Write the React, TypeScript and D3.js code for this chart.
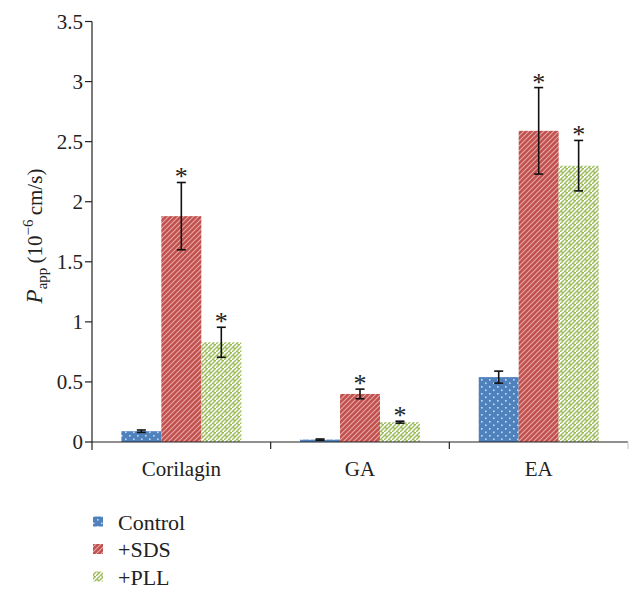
import React, { useEffect, useRef } from "react";
import * as d3 from "d3";

const categories = ["Corilagin", "GA", "EA"];
const seriesNames = ["Control", "+SDS", "+PLL"];
const controlValues = [0.09, 0.02, 0.54];
const sdsValues = [1.88, 0.40, 2.59];
const pllValues = [0.83, 0.165, 2.30];
const controlErr = [0.01, 0.005, 0.05];
const sdsErr = [0.28, 0.04, 0.36];
const pllErr = [0.125, 0.008, 0.21];
const controlStar = [false, false, false];
const sdsStar = [true, true, true];
const pllStar = [true, true, true];
const yTicks = [0, 0.5, 1, 1.5, 2, 2.5, 3, 3.5];

const FONT = "Liberation Serif, DejaVu Serif, serif";

export default function App() {
  const ref = useRef<SVGSVGElement | null>(null);

  useEffect(() => {
    const svg = d3.select(ref.current);
    svg.selectAll("*").remove();

    const W = 642, H = 599;
    const x0 = 92, x1 = 628, yTop = 21.5, yBot = 442;

    const defs = svg.append("defs");
    const pDots = defs.append("pattern").attr("id", "pDots").attr("patternUnits", "userSpaceOnUse")
      .attr("width", 8).attr("height", 7);
    pDots.append("rect").attr("width", 8).attr("height", 7).attr("fill", "#4F81BD");
    pDots.append("rect").attr("x", 1).attr("y", 1).attr("width", 1.6).attr("height", 1.6).attr("fill", "#C8DAF0");
    pDots.append("rect").attr("x", 5).attr("y", 4.5).attr("width", 1.6).attr("height", 1.6).attr("fill", "#C8DAF0");
    const pDiag = defs.append("pattern").attr("id", "pDiag").attr("patternUnits", "userSpaceOnUse")
      .attr("width", 5).attr("height", 5);
    pDiag.append("rect").attr("width", 5).attr("height", 5).attr("fill", "#C0504D");
    pDiag.append("path").attr("d", "M-1,6 L6,-1 M-1,1 L1,-1 M4,6 L6,4")
      .attr("stroke", "#E8A9A7").attr("stroke-width", 1.1);
    const pZig = defs.append("pattern").attr("id", "pZig").attr("patternUnits", "userSpaceOnUse")
      .attr("width", 8).attr("height", 8);
    pZig.append("rect").attr("width", 8).attr("height", 8).attr("fill", "#ffffff");
    pZig.append("path").attr("d", "M0,8 L8,0 M-4,8 L4,0 M4,8 L12,0 M1,3 L3,5 M5,7 L7,9 M5,-1 L7,1")
      .attr("stroke", "#9BBB59").attr("stroke-width", 1.4).attr("fill", "none");

    const patterns = ["url(#pDots)", "url(#pDiag)", "url(#pZig)"];
    const values = [controlValues, sdsValues, pllValues];
    const errs = [controlErr, sdsErr, pllErr];
    const stars = [controlStar, sdsStar, pllStar];

    const y = d3.scaleLinear().domain([0, 3.5]).range([yBot, yTop]);
    const xCat = d3.scaleBand<string>().domain(categories).range([x0, x1]).padding(0);
    const xSer = d3.scaleBand<string>().domain(seriesNames).range([0, xCat.bandwidth()])
      .paddingInner(0).paddingOuter(0.735);

    const g = svg.append("g").style("font-family", FONT).style("fill", "#222");

    seriesNames.forEach((s, si) => {
      categories.forEach((c, ci) => {
        const v = values[si][ci];
        const bx = (xCat(c) as number) + (xSer(s) as number);
        const bw = xSer.bandwidth();
        g.append("rect")
          .attr("x", bx).attr("y", y(v))
          .attr("width", bw).attr("height", y(0) - y(v))
          .style("fill", patterns[si]);
        const cx = bx + bw / 2;
        const e = errs[si][ci];
        const top = y(v + e), bot = y(v - e);
        g.append("line").attr("x1", cx).attr("x2", cx).attr("y1", top).attr("y2", bot)
          .attr("stroke", "#111").attr("stroke-width", 1.6);
        [top, bot].forEach((yy) => {
          g.append("line").attr("x1", cx - 4.5).attr("x2", cx + 4.5).attr("y1", yy).attr("y2", yy)
            .attr("stroke", "#111").attr("stroke-width", 1.6);
        });
        if (stars[si][ci]) {
          g.append("text").attr("x", cx).attr("y", top + 3)
            .attr("text-anchor", "middle").style("font-size", "26px")
            .text("*");
        }
      });
    });

    const axisColor = "#222";
    g.append("line").attr("x1", x0).attr("x2", x0).attr("y1", yTop).attr("y2", yBot + 8)
      .attr("stroke", axisColor).attr("stroke-width", 1.2);
    yTicks.forEach((t) => {
      g.append("line").attr("x1", x0 - 7).attr("x2", x0).attr("y1", y(t)).attr("y2", y(t))
        .attr("stroke", axisColor).attr("stroke-width", 1.2);
      g.append("text").attr("x", x0 - 9).attr("y", y(t)).attr("dy", "0.35em")
        .attr("text-anchor", "end").style("font-size", "21px")
        .text(d3.format("~g")(t));
    });

    g.append("line").attr("x1", x0).attr("x2", x1).attr("y1", yBot).attr("y2", yBot)
      .attr("stroke", axisColor).attr("stroke-width", 1.2);
    categories.forEach((c, i) => {
      const xe = (xCat(c) as number) + xCat.bandwidth();
      g.append("line").attr("x1", xe).attr("x2", xe).attr("y1", yBot).attr("y2", yBot + 7)
        .attr("stroke", i === categories.length - 1 ? "#ccc" : axisColor).attr("stroke-width", 1.2);
      g.append("text").attr("x", (xCat(c) as number) + xCat.bandwidth() / 2).attr("y", yBot + 34)
        .attr("text-anchor", "middle").style("font-size", "21px")
        .text(c);
    });

    const yl = g.append("text").attr("transform", `translate(42,${236}) rotate(-90)`)
      .attr("text-anchor", "middle").style("font-size", "21px");
    yl.append("tspan").style("font-style", "italic").style("font-size", "23px").text("P");
    yl.append("tspan").attr("dy", 5).style("font-size", "15px").text("app");
    yl.append("tspan").attr("dy", -5).text("\u2009(10");
    yl.append("tspan").attr("dy", -9).style("font-size", "15px").text("\u22126");
    yl.append("tspan").attr("dy", 9).text("\u2009cm/s)");

    seriesNames.forEach((s, i) => {
      const ly = 522 + i * 27.5;
      g.append("rect").attr("x", 93).attr("y", ly - 5.5).attr("width", 10).attr("height", 10)
        .style("fill", patterns[i]);
      g.append("text").attr("x", 118).attr("y", ly).attr("dy", "0.35em")
        .style("font-size", "22px").text(s);
    });

    svg.attr("width", W).attr("height", H);
  }, []);

  return (
    <svg ref={ref} width={642} height={599}
      style={{ position: "absolute", left: 0, top: 0, background: "#fff" }} />
  );
}
